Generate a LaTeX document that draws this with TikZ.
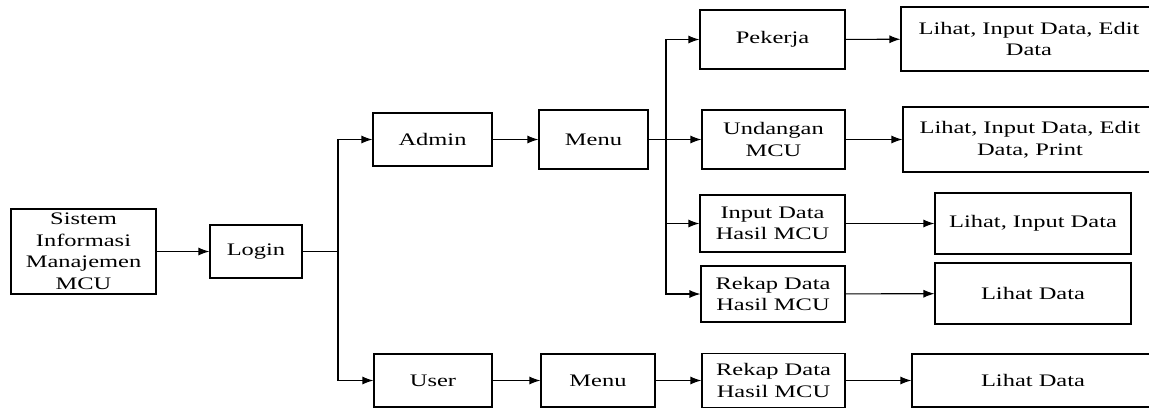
\documentclass[tikz,border=0pt]{standalone}
\usepackage{fontspec}
\setmainfont{Liberation Serif}[FakeStretch=1.39]
\usetikzlibrary{arrows.meta}
\begin{document}
\begin{tikzpicture}[x=1pt,y=-1pt,
  box/.style={draw=black, line width=1.1pt, inner sep=0pt, align=center,
    font=\fontsize{17.6}{21.5}\selectfont},
  conn/.style={-{Latex[length=11pt,width=8pt]}, line width=1.1pt},
  plain/.style={line width=1.1pt}]
\useasboundingbox (0,0) rectangle (1149,408);
% left part
\node[box, minimum width=145pt, minimum height=85pt] (sis) at (83.5,251.5) {Sistem\\Informasi\\Manajemen\\MCU};
\node[box, minimum width=92pt, minimum height=53pt] (login) at (256,251.5) {Login};
\node[box, minimum width=119pt, minimum height=53pt] (admin) at (432.5,139.5) {Admin};
\node[box, minimum width=109pt, minimum height=59pt] (menuA) at (593.5,139.5) {Menu};
\node[box, minimum width=118pt, minimum height=53pt] (user) at (433,380.5) {User};
\node[box, minimum width=114pt, minimum height=53pt] (menuB) at (598,380.5) {Menu};
% third column
\node[box, minimum width=145pt, minimum height=59pt] (pek) at (772.5,39.5) {Pekerja};
\node[box, minimum width=143pt, minimum height=59pt] (und) at (773.5,139.5) {Undangan\\MCU};
\node[box, minimum width=145pt, minimum height=57pt] (inp) at (772.5,223.5) {Input Data\\Hasil MCU};
\node[box, minimum width=144pt, minimum height=56pt] (rekA) at (773,294) {Rekap Data\\Hasil MCU};
\node[box, minimum width=143pt, minimum height=54pt] (rekB) at (773.5,380.5) {Rekap Data\\Hasil MCU};
% fourth column
\node[box, minimum width=256pt, minimum height=64pt] (lhA) at (1029,39) {Lihat, Input Data, Edit\\Data};
\node[box, minimum width=254pt, minimum height=65pt] (lhB) at (1030,139.5) {Lihat, Input Data, Edit\\Data, Print};
\node[box, minimum width=196pt, minimum height=61pt] (lhC) at (1033,223.5) {Lihat, Input Data};
\node[box, minimum width=196pt, minimum height=61pt] (lhD) at (1033,293.5) {Lihat Data};
\node[box, minimum width=242pt, minimum height=53pt] (lhE) at (1033,380.5) {Lihat Data};
% trunks
\coordinate (t1) at (338,251.5);
\coordinate (t2) at (666,139.5);
% connectors
\draw[conn] (sis) -- (login);
\draw[plain] (login.east) -- (t1);
\draw[conn] (t1) |- (admin.west);
\draw[conn] (t1) |- (user.west);
\draw[conn] (admin) -- (menuA);
\draw[plain] (menuA.east) -- (t2);
\draw[conn] (t2) |- (pek.west);
\draw[conn] (t2) -- (und.west);
\draw[conn] (t2) |- (inp.west);
\draw[conn] (t2) |- (rekA.west);
\draw[conn] (pek) -- (lhA);
\draw[conn] (und) -- (lhB);
\draw[conn] (inp) -- (lhC);
\draw[conn] (rekA) -- (lhD);
\draw[conn] (user) -- (menuB);
\draw[conn] (menuB) -- (rekB);
\draw[conn] (rekB) -- (lhE);
\end{tikzpicture}
\end{document}
